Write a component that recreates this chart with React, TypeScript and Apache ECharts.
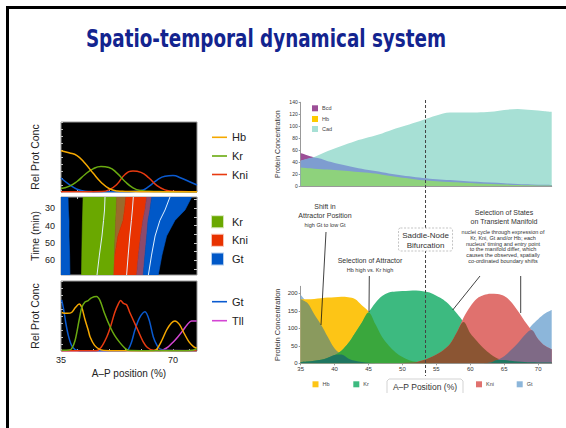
import React, { useEffect, useRef } from "react";
import * as echarts from "echarts";

const FONT = "'Liberation Sans', Arial, Helvetica, sans-serif";
const TITLE_FONT = "'Liberation Sans Narrow', 'DejaVu Sans Condensed', 'Liberation Sans', sans-serif";
const TITLE = "Spatio-temporal dynamical system";

// ---------- Left panel A: model relative protein concentration ----------
const A_X = [35, 37.5, 40, 42.5, 45, 47.5, 50, 52.5, 55, 57.5, 60, 62.5, 65, 67.5, 70, 72.5, 75, 77.5];
const A_HB = [0.59, 0.56, 0.52, 0.41, 0.27, 0.14, 0.05, 0.015, 0.008, 0.006, 0.005, 0.005, 0.005, 0.005, 0.005, 0.005, 0.005, 0.005];
const A_KR = [0.05, 0.08, 0.15, 0.25, 0.33, 0.365, 0.35, 0.27, 0.15, 0.06, 0.02, 0.01, 0.007, 0.005, 0.005, 0.005, 0.005, 0.005];
const A_KNI = [0.004, 0.004, 0.004, 0.004, 0.004, 0.006, 0.03, 0.11, 0.25, 0.3, 0.28, 0.2, 0.09, 0.03, 0.01, 0.006, 0.005, 0.005];
const A_GT = [0.2, 0.11, 0.04, 0.01, 0.005, 0.004, 0.004, 0.004, 0.004, 0.008, 0.02, 0.08, 0.17, 0.225, 0.235, 0.2, 0.15, 0.1];

// ---------- Left panel B: space-time domains ----------
const B_T = [23.5, 31, 37, 46, 57, 68.5];
const B_MIN = [35, 35, 35, 35, 35, 35];
const B_GT_EDGE_R = [37.2, 37.3, 37.5, 37.5, 37.7, 37.8];
const B_KR_L = [41.9, 41.8, 41.7, 41.6, 41.5, 41.4];
const B_KR_R = [52.4, 52.25, 52.1, 51.9, 51.7, 51.55];
const B_MIX_R = [55.3, 54.85, 54.4, 52.8, 51.85, 51.55];
const B_KNI_R = [61.8, 61.25, 60.6, 59.9, 59.2, 58.65];
const B_MAUVE_R = [63.35, 62.8, 62.2, 61.8, 61.25, 60.7];
const B_GT_R = [75.85, 73.75, 70.6, 68.0, 66.55, 65.4];
const B_KR_MID = [48.75, 48.6, 48.3, 47.8, 47.0, 46.25];
const B_KNI_MID = [57.6, 57.3, 57.0, 56.5, 56.0, 55.5];
const B_GT_MID = [69.05, 67.5, 65.9, 64.4, 63.3, 62.3];

// ---------- Left panel C: data relative protein concentration ----------
const C_GT: number[][] = [[35.2, 0.73], [35.8, 0.6], [36.5, 0.4], [37.3, 0.22], [38.3, 0.08], [39.4, 0.02], [41, 0.005], [55, 0.005], [56, 0.02], [57, 0.12], [58.1, 0.3], [59.5, 0.47], [61.25, 0.56], [62.5, 0.45], [63.85, 0.2], [65, 0.08], [65.9, 0.03], [68, 0.01], [77.4, 0.005]];
const C_HB: number[][] = [[35.2, 0.55], [36, 0.54], [37, 0.54], [38.3, 0.55], [39.5, 0.62], [40.7, 0.67], [41.5, 0.62], [42.5, 0.45], [43.5, 0.3], [44.1, 0.2], [45.5, 0.08], [47.2, 0.02], [50, 0.005], [64, 0.005], [65, 0.03], [66.5, 0.15], [68, 0.3], [69.5, 0.4], [70.6, 0.43], [72, 0.38], [73.5, 0.25], [75, 0.13], [76.5, 0.06], [77.4, 0.04]];
const C_KR: number[][] = [[35.2, 0.01], [37.5, 0.015], [38.3, 0.03], [39.4, 0.15], [40.7, 0.45], [41.5, 0.62], [42.5, 0.7], [43.5, 0.72], [44.5, 0.76], [46.1, 0.78], [47.2, 0.72], [48.5, 0.55], [50.3, 0.35], [51.8, 0.22], [53.4, 0.12], [55, 0.04], [56, 0.01], [60, 0.005], [74, 0.005], [76, 0.01], [77.4, 0.03]];
const C_KNI: number[][] = [[35.2, 0.005], [46, 0.005], [47.5, 0.05], [49.3, 0.2], [50.5, 0.35], [51.8, 0.55], [53, 0.68], [53.65, 0.72], [54.5, 0.68], [55.5, 0.66], [56.5, 0.55], [57.6, 0.44], [59, 0.3], [60.7, 0.13], [62, 0.05], [63.9, 0.01], [77.4, 0.005]];
const C_TLL: number[][] = [[35.2, 0.005], [66, 0.005], [67, 0.02], [68.5, 0.06], [70.1, 0.13], [71.5, 0.2], [73.2, 0.3], [74.5, 0.38], [75.8, 0.43], [77.4, 0.43]];

// ---------- Right top: maternal gradients ----------
const R1_X = [35, 37, 39, 41, 43, 45, 47, 49, 51, 53, 55, 57, 59, 61, 63, 65, 67, 69, 71, 72];
const R1_BCD = [55, 47.6, 41.5, 36, 31, 26.6, 23, 19.3, 16.2, 13.3, 11.3, 9.9, 8.5, 7.1, 5.8, 4.6, 3.5, 2.7, 2.0, 1.7];
const R1_HB = [31, 29, 27.5, 26, 24, 22, 19, 15.5, 12.5, 9.5, 8, 6.5, 5.3, 4.2, 3.3, 2.5, 1.8, 1.2, 0.8, 0.6];
const R1_CAD = [42, 48.5, 58.5, 67, 75, 81.5, 88, 96, 103, 110.5, 118, 122.8, 123, 123, 124, 127, 129, 127, 125, 124];

// ---------- Right bottom: gap genes ----------
const R2_X = [35, 36, 37, 38, 39, 40, 41, 42, 43, 44, 45, 46, 47, 48, 49, 50, 51, 52, 53, 54, 55, 56, 57, 58, 59, 60, 61, 62, 63, 64, 65, 66, 67, 68, 69, 70, 71, 72];
const R2_HB = [183, 183, 184, 186, 188, 189, 190, 189, 184, 166, 148, 112, 75, 50, 31, 18, 9, 4.5, 2, 1, 0, 0, 0, 0, 0, 0, 0, 0, 0, 0, 0, 0, 0, 0, 0, 0, 0, 0];
const R2_KR = [4, 5.5, 7.5, 10, 16, 24, 36, 57, 86, 116, 145, 172, 192, 202, 205, 206.5, 207.5, 208, 206, 202, 193, 182, 165, 143, 118, 86, 63, 42, 26, 14, 9.5, 7, 5, 4, 3, 2.5, 2, 2];
const R2_KNI = [0, 0, 0, 0, 0, 0, 0, 0, 0, 0, 0, 0, 0, 0, 0, 1, 1.5, 3, 8.5, 16, 25, 37, 55, 88, 130, 162, 185, 195, 199, 198, 192, 176, 150, 121, 95, 69, 50, 40];
const R2_GT = [195, 172, 140, 110, 75, 42, 25, 14, 7, 3.5, 1.5, 0.5, 0, 0, 0, 0, 0, 0, 0, 0, 0, 0, 0, 0, 0, 0, 0, 0.5, 2, 9.5, 20, 38, 57, 80, 107, 126, 142, 152];
const R2_TICKS_X = [35, 40, 45, 50, 55, 60, 65, 70];
const R2_TICKS_Y = [0, 50, 100, 150, 200];
const R1_BOUNDS = [0, 140];
const R2_BOUNDS = [0, 220];
const BIFURCATION_X = 53.4;

const C = {
  hb: "#f5a800", kr: "#6aaa10", kni: "#e83a10", gt: "#0a5ad0", tll: "#d445d4",
  bKr: "#6aa800", bMix: "#9a6a2c", bKni: "#e83200", bMauve: "#8c4a6c", bGt: "#0058c8", bLine: "#dff0ff",
  bcd: "#9c4f97", cad: "#a7e0d5", bcdCad: "#7e9dd0", hbCad: "#8ed27c", hbY: "#fecb00",
  r2Hb: "#fdc516", r2Kr: "#3dba80", r2Kni: "#e0716e", r2Gt: "#8cb6da",
  olive: "#8a9a5e", hbKr: "#3aa73d", krKni: "#8b5533", kniGt: "#7f6a86", krGt: "#1f7660",
};

const pairs = (xs: number[], ys: number[]) => xs.map((x, i) => [x, ys[i]]);
const minOf = (...arrs: number[][]) => arrs[0].map((_, i) => Math.min(...arrs.map((a) => a[i])));

const B_BANDS = [
  { l: B_MIN, r: B_GT_EDGE_R, color: C.bGt },
  { l: B_KR_L, r: B_KR_R, color: C.bKr },
  { l: B_KR_R, r: B_MIX_R, color: C.bMix },
  { l: B_MIX_R, r: B_KNI_R, color: C.bKni },
  { l: B_KNI_R, r: B_MAUVE_R, color: C.bMauve },
  { l: B_MAUVE_R, r: B_GT_R, color: C.bGt },
];

function lineSeries(name: string, data: number[][], color: string, xi: number, yi: number, smooth: number | boolean = true) {
  return {
    type: "line", name, xAxisIndex: xi, yAxisIndex: yi, data, smooth, symbol: "none", silent: true,
    lineStyle: { color, width: 1.5 }, z: 3,
  };
}
function areaSeries(name: string, xs: number[], ys: number[], color: string, xi: number, yi: number, z = 2) {
  return {
    type: "line", name, xAxisIndex: xi, yAxisIndex: yi, data: pairs(xs, ys), smooth: 0.35, symbol: "none", silent: true,
    lineStyle: { width: 0, color }, areaStyle: { color, opacity: 1 }, z,
  };
}

const tickIn = { show: true, inside: true, length: 2, lineStyle: { color: "#bbb" } };
function leftX(gi: number, extra: any = {}) {
  return {
    type: "value", gridIndex: gi, min: 35, max: 77.5,
    axisLine: { show: false }, splitLine: { show: false }, axisTick: tickIn, axisLabel: { show: false }, ...extra,
  };
}
const nameStyle = (size: number) => ({ fontSize: size, color: "#222", fontFamily: FONT });

function buildOption() {
  const leftGrid = { show: true, backgroundColor: "#000", borderColor: "#999", borderWidth: 1, left: 61, width: 136 };
  return {
    animation: false,
    backgroundColor: "#fff",
    textStyle: { fontFamily: FONT },
    grid: [
      { ...leftGrid, top: 122, height: 70 },
      { ...leftGrid, top: 197, height: 78 },
      { ...leftGrid, top: 281, height: 70 },
      { left: 300.7, top: 102.3, width: 251, height: 83.7 },
      { left: 300.7, top: 286.3, width: 251, height: 77 },
    ],
    xAxis: [
      leftX(0),
      leftX(1, { position: "top" }),
      leftX(2, {
        axisLabel: { show: true, customValues: [35, 70], fontSize: 9, color: "#222", fontFamily: FONT, margin: 4 },
        axisTick: { ...tickIn, customValues: [35, 40, 45, 50, 55, 60, 65, 70, 75] },
        name: "A–P position (%)", nameLocation: "middle", nameGap: 17, nameTextStyle: nameStyle(10),
      }),
      {
        type: "value", gridIndex: 3, min: 35, max: 72, axisLine: { show: true, lineStyle: { color: "#999" } },
        axisTick: { show: false }, axisLabel: { show: false }, splitLine: { show: false },
      },
      {
        type: "value", gridIndex: 4, min: 35, max: 72, axisLine: { show: true, lineStyle: { color: "#999" } },
        axisTick: { show: true, length: 2, customValues: R2_TICKS_X, lineStyle: { color: "#999" } },
        axisLabel: { customValues: R2_TICKS_X, fontSize: 6, color: "#333", margin: 3, fontFamily: FONT },
        splitLine: { show: false },
      },
    ],
    yAxis: [
      {
        type: "value", gridIndex: 0, min: 0, max: 1, splitNumber: 10, axisLabel: { show: false }, axisTick: tickIn,
        axisLine: { show: false }, splitLine: { show: false },
        name: "Rel Prot Conc", nameLocation: "middle", nameGap: 21, nameTextStyle: nameStyle(10.5),
      },
      {
        type: "value", gridIndex: 1, min: 23.5, max: 68.5, inverse: true,
        axisLabel: { customValues: [30, 40, 50, 60], fontSize: 9, color: "#222", margin: 6, fontFamily: FONT },
        axisTick: { show: true, inside: true, length: 3, customValues: [25, 30, 35, 40, 45, 50, 55, 60, 65], lineStyle: { color: "#ccc" } },
        axisLine: { show: false }, splitLine: { show: false },
        name: "Time (min)", nameLocation: "middle", nameGap: 21, nameTextStyle: nameStyle(10.5),
      },
      {
        type: "value", gridIndex: 1, position: "right", min: 23.5, max: 68.5, inverse: true,
        axisLabel: { show: false },
        axisTick: { show: true, inside: true, length: 3, customValues: [25, 30, 35, 40, 45, 50, 55, 60, 65], lineStyle: { color: "#ccc" } },
        axisLine: { show: false }, splitLine: { show: false },
      },
      {
        type: "value", gridIndex: 2, min: 0, max: 1, splitNumber: 10, axisLabel: { show: false }, axisTick: tickIn,
        axisLine: { show: false }, splitLine: { show: false },
        name: "Rel Prot Conc", nameLocation: "middle", nameGap: 21, nameTextStyle: nameStyle(10.5),
      },
      {
        type: "value", gridIndex: 3, min: R1_BOUNDS[0], max: R1_BOUNDS[1], interval: 20,
        axisLine: { show: true, lineStyle: { color: "#999" } }, axisTick: { show: true, length: 2, lineStyle: { color: "#999" } },
        axisLabel: { fontSize: 5, color: "#333", margin: 3, fontFamily: FONT }, splitLine: { show: false },
        name: "Protein Concentration", nameLocation: "middle", nameGap: 20, nameTextStyle: { fontSize: 7, color: "#333", fontFamily: FONT },
      },
      {
        type: "value", gridIndex: 4, min: R2_BOUNDS[0], max: R2_BOUNDS[1],
        axisLine: { show: true, lineStyle: { color: "#999" } },
        axisTick: { show: true, length: 2, customValues: R2_TICKS_Y, lineStyle: { color: "#999" } },
        axisLabel: { customValues: R2_TICKS_Y, fontSize: 6, color: "#333", margin: 3, fontFamily: FONT }, splitLine: { show: false },
        name: "Protein Concentration", nameLocation: "middle", nameGap: 19, nameTextStyle: { fontSize: 7.5, color: "#333", fontFamily: FONT },
      },
    ],
    series: [
      // Panel A
      lineSeries("Gt", pairs(A_X, A_GT), C.gt, 0, 0),
      lineSeries("Kni", pairs(A_X, A_KNI), C.kni, 0, 0),
      lineSeries("Kr", pairs(A_X, A_KR), C.kr, 0, 0),
      lineSeries("Hb", pairs(A_X, A_HB), C.hb, 0, 0),
      // Panel B
      {
        type: "custom", name: "domains", xAxisIndex: 1, yAxisIndex: 1, silent: true, clip: true,
        data: B_BANDS.map((b) => [b.l[0], B_T[0]]),
        encode: { x: 0, y: 1 },
        renderItem: (params: any, api: any) => {
          const b = B_BANDS[params.dataIndex];
          const pts: number[][] = [];
          for (let i = 0; i < B_T.length; i++) pts.push(api.coord([b.l[i], B_T[i]]));
          for (let i = B_T.length - 1; i >= 0; i--) pts.push(api.coord([b.r[i], B_T[i]]));
          return { type: "polygon", shape: { points: pts }, style: { fill: b.color, stroke: b.color, lineWidth: 0.6 } };
        },
      },
      { ...lineSeries("Kr centre", pairs(B_KR_MID, B_T), C.bLine, 1, 1, false), lineStyle: { color: C.bLine, width: 1 } },
      { ...lineSeries("Kni centre", pairs(B_KNI_MID, B_T), C.bLine, 1, 1, false), lineStyle: { color: C.bLine, width: 1 } },
      { ...lineSeries("Gt centre", pairs(B_GT_MID, B_T), C.bLine, 1, 1, false), lineStyle: { color: C.bLine, width: 1 } },
      // Panel C
      lineSeries("Tll", C_TLL, C.tll, 2, 3, 0.3),
      lineSeries("Gt", C_GT, C.gt, 2, 3, 0.3),
      lineSeries("Kni", C_KNI, C.kni, 2, 3, 0.3),
      lineSeries("Hb", C_HB, C.hb, 2, 3, 0.3),
      lineSeries("Kr", C_KR, C.kr, 2, 3, 0.3),
      // Right top
      areaSeries("Bcd", R1_X, R1_BCD, C.bcd, 3, 4, 2),
      areaSeries("Cad", R1_X, R1_CAD, C.cad, 3, 4, 2),
      areaSeries("Bcd+Cad", R1_X, minOf(R1_BCD, R1_CAD), C.bcdCad, 3, 4, 2),
      areaSeries("Hb", R1_X, R1_HB, C.hbCad, 3, 4, 2),
      // Right bottom
      areaSeries("Gt", R2_X, R2_GT, C.r2Gt, 4, 5, 2),
      areaSeries("Hb", R2_X, R2_HB, C.r2Hb, 4, 5, 2),
      areaSeries("Kr", R2_X, R2_KR, C.r2Kr, 4, 5, 2),
      areaSeries("Kni", R2_X, R2_KNI, C.r2Kni, 4, 5, 2),
      areaSeries("Hb+Gt", R2_X, minOf(R2_HB, R2_GT), C.olive, 4, 5, 2),
      areaSeries("Hb+Kr", R2_X, minOf(R2_HB, R2_KR), C.hbKr, 4, 5, 2),
      areaSeries("Kr+Kni", R2_X, minOf(R2_KR, R2_KNI), C.krKni, 4, 5, 2),
      areaSeries("Kni+Gt", R2_X, minOf(R2_KNI, R2_GT), C.kniGt, 4, 5, 2),
      areaSeries("Kr+Gt", R2_X, minOf(R2_KR, R2_GT), C.krGt, 4, 5, 2),
    ],
  };
}

function txt(text: string, x: number, y: number, size: number, extra: any = {}, el: any = {}) {
  return {
    type: "text", x, y, z: 100, silent: true, ...el,
    style: { text, fontSize: size, fontFamily: FONT, fill: "#333", align: "center", verticalAlign: "middle", ...extra },
  };
}
function seg(x1: number, y1: number, x2: number, y2: number, stroke = "#111", lineWidth = 0.8, extra: any = {}) {
  return { type: "line", z: 90, silent: true, shape: { x1, y1, x2, y2 }, style: { stroke, lineWidth, ...extra } };
}
function legendLine(label: string, color: string, y: number) {
  return [seg(212, y, 227, y, color, 1.6), txt(label, 232, y, 11, { align: "left", fill: "#222" })];
}
function legendBox(label: string, color: string, y: number) {
  return [
    { type: "rect", z: 90, silent: true, shape: { x: 212, y: y - 5.5, width: 11, height: 11 }, style: { fill: color, stroke: color, lineWidth: 2, strokeOpacity: 0.3 } },
    txt(label, 232, y, 11, { align: "left", fill: "#222" }),
  ];
}
function tinyBox(label: string, color: string, x: number, y: number) {
  return [
    { type: "rect", z: 90, silent: true, shape: { x, y: y - 3, width: 6, height: 6 }, style: { fill: color } },
    txt(label, x + 10, y, 5.5, { align: "left", fill: "#444" }),
  ];
}

function buildGraphic(bx: number) {
  const small = [
    "nuclei cycle through expression of",
    "Kr, Kni, Gt and/or Hb; each",
    "nucleus' timing and entry point",
    "to the manifold differ, which",
    "causes the observed, spatially",
    "co-ordinated boundary shifts",
  ];
  const smallY = [232.3, 238, 243.7, 249.3, 255.3, 261];
  return [
    { type: "polyline", z: 100, silent: true, shape: { points: [[7.5, 428], [7.5, 7.5], [566, 7.5]] }, style: { stroke: "#000", lineWidth: 3, fill: null } },
    txt(TITLE, 266, 38, 24, { fontFamily: TITLE_FONT, fontWeight: "bold", fill: "#13248f" }, { scaleX: 0.85 }),
    ...legendLine("Hb", C.hb, 137.3),
    ...legendLine("Kr", C.kr, 156),
    ...legendLine("Kni", C.kni, 174.5),
    ...legendBox("Kr", C.bKr, 221.7),
    ...legendBox("Kni", C.bKni, 240.3),
    ...legendBox("Gt", C.bGt, 259),
    ...legendLine("Gt", C.gt, 301.7),
    ...legendLine("Tll", C.tll, 320.7),
    ...tinyBox("Bcd", C.bcd, 312, 108.3),
    ...tinyBox("Hb", C.hbY, 312, 119),
    ...tinyBox("Cad", C.cad, 312, 129),
    ...tinyBox("Hb", C.r2Hb, 312.5, 384.3),
    ...tinyBox("Kr", C.r2Kr, 353.3, 384.3),
    ...tinyBox("Kni", C.r2Kni, 476, 384.3),
    ...tinyBox("Gt", C.r2Gt, 516.7, 384.3),
    { type: "polyline", z: 90, silent: true, shape: { points: [[387, 393], [387, 381], [389, 379], [461, 379], [463, 381], [463, 393]] }, style: { stroke: "#c8c8c8", lineWidth: 0.8, fill: null } },
    txt("A–P Position (%)", 425, 386.5, 8.5, { fill: "#333" }),
    seg(bx, 100, bx, 376, "#444", 1, { lineDash: [3, 2] }),
    { type: "rect", z: 95, silent: true, shape: { x: bx - 27, y: 228, width: 54, height: 23, r: 2 }, style: { fill: "#fff", stroke: "#aaa", lineWidth: 0.7, lineDash: [2, 1.5] } },
    txt("Saddle-Node", bx, 235, 8),
    txt("Bifurcation", bx, 245, 8),
    txt("Shift in", 325, 206, 7),
    txt("Attractor Position", 325, 215, 7),
    txt("high Gt to low Gt", 325, 225, 5.5),
    txt("Selection of Attractor", 370, 260, 7),
    txt("Hb high vs. Kr high", 370, 270, 5.5),
    txt("Selection of States", 504, 212.7, 7),
    txt("on Transient Manifold", 504, 221.7, 7),
    ...small.map((s, i) => txt(s, 503, smallY[i], 5.5)),
    seg(326, 232, 321, 325),
    seg(369.3, 276, 369, 312),
    seg(480, 276, 452.7, 310),
    seg(520.7, 276, 520.7, 313),
  ];
}

export default function App() {
  const ref = useRef<HTMLDivElement>(null);
  useEffect(() => {
    document.body.style.margin = "0";
    const chart = echarts.init(ref.current!, null, { renderer: "svg" });
    chart.setOption(buildOption() as any);
    const bx = chart.convertToPixel({ xAxisIndex: 3 } as any, BIFURCATION_X) as unknown as number;
    chart.setOption({ graphic: buildGraphic(bx) } as any);
    return () => chart.dispose();
  }, []);
  return <div ref={ref} style={{ width: 566, height: 428, background: "#fff" }} />;
}
